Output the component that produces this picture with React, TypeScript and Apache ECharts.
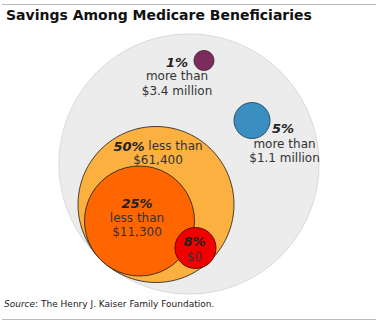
import React, { useEffect, useRef } from "react";
import * as echarts from "echarts";

// Groups of Medicare beneficiaries by savings
const groups = ["All", "50% less than $61,400", "25% less than $11,300", "8% $0", "1% more than $3.4 million", "5% more than $1.1 million"];
const shares = [100, 50, 25, 8, 1, 5];
// Layout of the circles (diagram units = pixels on a 384x326 canvas)
const centerX = [189, 156, 139.5, 195.5, 204, 252];
const centerY = [164, 204.5, 221, 248, 60.5, 120.5];
const radius = [130, 78, 55, 20.5, 10, 18];
const fills = ["#ececec", "#fbb040", "#ff6600", "#f20000", "#7b2c5c", "#3b8fc0"];
const borders = ["#d9d9d9", "#1a1a1a", "#1a1a1a", "#3a0000", "#3a1a2a", "#1a3a50"];

export default function App() {
  const ref = useRef<HTMLDivElement>(null);
  useEffect(() => {
    if (!ref.current) return;
    const chart = echarts.init(ref.current, undefined, { renderer: "svg" });
    const font = "DejaVu Sans, Verdana, sans-serif";
    const txt = (x: number, y: number, text: string, align = "center", size = 12) => ({
      type: "text",
      x,
      y,
      z: 100,
      style: {
        text,
        align,
        verticalAlign: "middle",
        fontFamily: font,
        fontSize: size,
        fill: "#333",
        rich: {
          b: { fontWeight: "bold", fontStyle: "italic", fontFamily: font, fontSize: size + 1, fill: "#222" },
        },
      },
    });
    chart.setOption({
      animation: false,
      grid: { left: 0, top: 0, right: 0, bottom: 0 },
      xAxis: { type: "value", min: 0, max: 384, show: false },
      yAxis: { type: "value", min: 0, max: 326, inverse: true, show: false },
      series: [
        {
          type: "scatter",
          symbol: "circle",
          clip: false,
          data: groups.map((g, i) => ({
            name: g,
            value: [centerX[i], centerY[i], shares[i]],
            symbolSize: radius[i] * 2,
            itemStyle: { color: fills[i], borderColor: borders[i], borderWidth: i === 0 ? 1 : 0.8, opacity: 1 },
          })),
          emphasis: { disabled: true },
        },
      ],
      graphic: [
        { type: "line", z: 100, shape: { x1: 2, y1: 4.5, x2: 376, y2: 4.5 }, style: { stroke: "#bbbbbb", lineWidth: 1 } },
        { type: "line", z: 100, shape: { x1: 2, y1: 319.5, x2: 376, y2: 319.5 }, style: { stroke: "#bbbbbb", lineWidth: 1 } },
        {
          type: "text",
          x: 6,
          y: 15,
          z: 100,
          style: { text: "Savings Among Medicare Beneficiaries", fontFamily: font, fontWeight: "bold", fontSize: 14, fill: "#111", verticalAlign: "middle" },
        },
        txt(188, 62, "{b|1%}", "right"),
        txt(177, 76, "more than"),
        txt(177, 91, "$3.4 million"),
        txt(272, 128, "{b|5%}", "left"),
        txt(284.5, 143.5, "more than"),
        txt(284.5, 158, "$1.1 million"),
        txt(158, 146, "{b|50%} less than"),
        txt(158, 159.5, "$61,400"),
        txt(137, 203, "{b|25%}"),
        txt(137, 218, "less than"),
        txt(137, 232, "$11,300"),
        txt(194.5, 241, "{b|8%}"),
        txt(194.5, 257, "$0"),
        {
          type: "text",
          x: 4,
          y: 304,
          z: 100,
          style: {
            text: "{i|Source}: The Henry J. Kaiser Family Foundation.",
            fontFamily: font,
            fontSize: 9,
            fill: "#222",
            verticalAlign: "middle",
            rich: { i: { fontStyle: "italic", fontFamily: font, fontSize: 9, fill: "#222" } },
          },
        },
      ],
    });
    return () => chart.dispose();
  }, []);
  return <div ref={ref} style={{ width: 384, height: 326, position: "absolute", left: 0, top: 0, background: "#fff" }} />;
}
